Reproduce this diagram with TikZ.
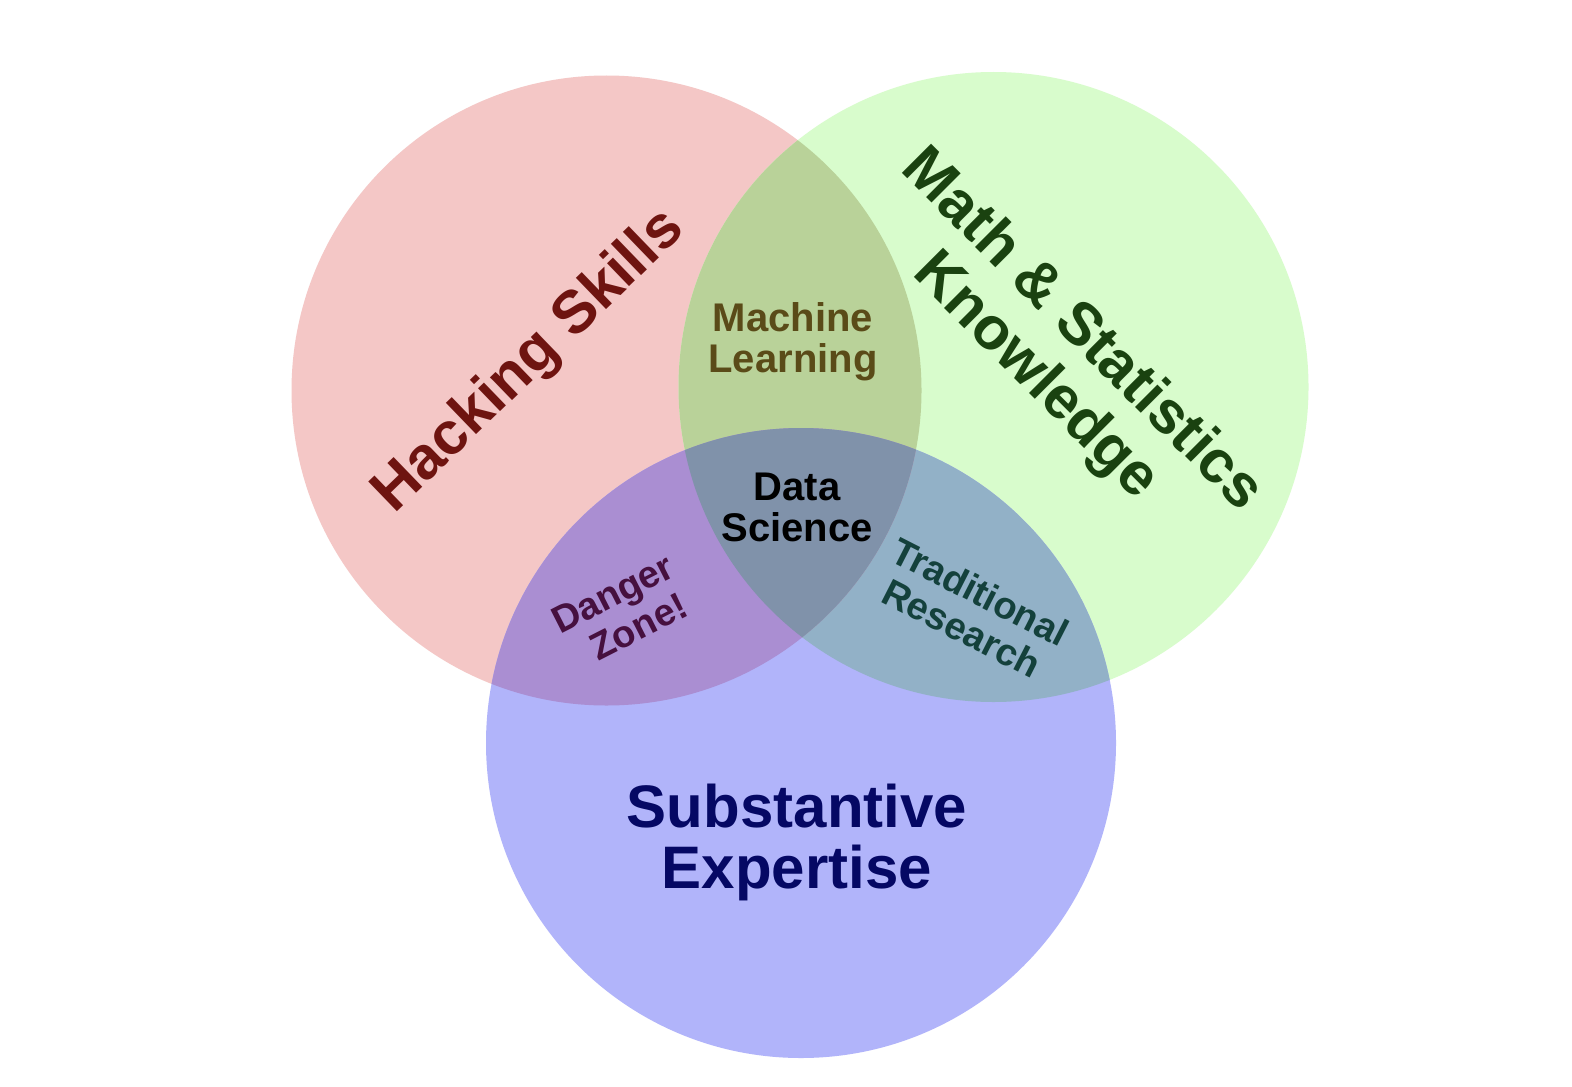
\documentclass[tikz,border=0pt]{standalone}
\usepackage{fontspec}
\setmainfont{Liberation Sans}

% solo fills of the three sets
\definecolor{hackfill}{RGB}{244,199,198}
\definecolor{mathfill}{RGB}{216,252,204}
\definecolor{subfill}{RGB}{177,180,250}
% fills of the overlaps
\definecolor{hmfill}{RGB}{185,210,153}
\definecolor{hsfill}{RGB}{170,142,210}
\definecolor{msfill}{RGB}{146,177,199}
\definecolor{allfill}{RGB}{128,146,170}
% label colours
\definecolor{hacktext}{RGB}{110,20,16}
\definecolor{mathtext}{RGB}{26,66,16}
\definecolor{subtext}{RGB}{5,8,100}
\definecolor{mltext}{RGB}{90,75,24}
\definecolor{dangertext}{RGB}{70,16,63}
\definecolor{tradtext}{RGB}{20,65,60}

\tikzset{
  setlabel/.style={align=center, inner sep=0pt, font=\bfseries\fontsize{30}{32.5}\selectfont},
  zonelabel/.style={align=center, inner sep=0pt, font=\bfseries\fontsize{20}{20.5}\selectfont},
  smalllabel/.style={align=center, inner sep=0pt, font=\bfseries\fontsize{19}{20.5}\selectfont},
}

\begin{document}
\begin{tikzpicture}[x=0.5pt,y=-0.5pt]
  \useasboundingbox (0,0) rectangle (1572,1086);
  \fill[white] (0,0) rectangle (1572,1086);

  \def\rad{157.5pt}
  \coordinate (cH) at (606.5,390.5);
  \coordinate (cM) at (993.5,387);
  \coordinate (cS) at (801,743);

  % the three sets
  \fill[hackfill] (cH) circle (\rad);
  \fill[mathfill] (cM) circle (\rad);
  \fill[subfill]  (cS) circle (\rad);

  % overlaps
  \begin{scope}
    \clip (cM) circle (\rad);
    \fill[msfill] (cS) circle (\rad);
  \end{scope}
  \begin{scope}
    \clip (cH) circle (\rad);
    \fill[hmfill] (cM) circle (\rad);
    \fill[hsfill] (cS) circle (\rad);
    \clip (cM) circle (\rad);
    \fill[allfill] (cS) circle (\rad);
  \end{scope}

  % labels
  \node[setlabel, text=hacktext, rotate=44] (hack) at (530,362) {Hacking Skills};
  \node[setlabel, text=mathtext, rotate=-45] (math) at (1058,354) {Math \& Statistics\\Knowledge};
  \node[setlabel, text=subtext, font=\bfseries\fontsize{30}{30.5}\selectfont] (subst) at (797,842) {Substantive\\Expertise};
  \node[zonelabel, text=mltext] (ml) at (793,342) {Machine\\Learning};
  \node[zonelabel, text=black] (ds) at (797,507) {Data\\Science};
  \node[smalllabel, text=dangertext, rotate=27] (danger) at (622,612) {Danger\\\hspace*{8pt}Zone!};
  \node[smalllabel, text=tradtext, rotate=-27] (trad) at (971,610) {Traditional\\Research};
\end{tikzpicture}
\end{document}
